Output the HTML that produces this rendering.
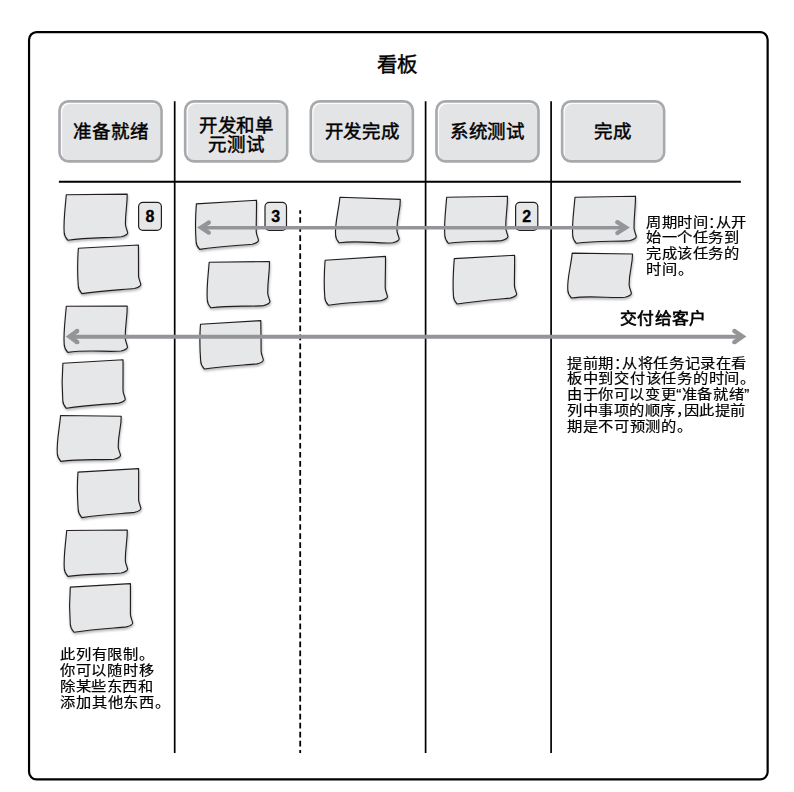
<!DOCTYPE html><html lang="zh-CN"><head><meta charset="utf-8"><title>看板</title><style>

html,body{margin:0;padding:0;background:#fff;}
body{width:794px;height:792px;position:relative;overflow:hidden;font-family:"Liberation Sans",sans-serif;color:#000;}
.st{fill:#e6e7e8;stroke:#231f20;stroke-width:1.15;stroke-linejoin:round;}
.t{position:absolute;white-space:nowrap;}
.h{font-feature-settings:"halt";}

</style></head><body>
<svg width="794" height="792" viewBox="0 0 794 792" style="position:absolute;left:0;top:0">
<defs><filter id="sh" x="-10%" y="-10%" width="120%" height="130%"><feDropShadow dx="0.6" dy="1.8" stdDeviation="1.1" flood-color="#000" flood-opacity="0.28"/></filter></defs>
<rect x="29.05" y="32.2" width="738.6" height="747.2" rx="7.5" fill="none" stroke="#000" stroke-width="2.2"/>
<line x1="58.9" y1="181.8" x2="740.9" y2="181.8" stroke="#000" stroke-width="1.9"/>
<line x1="174.7" y1="101.3" x2="174.7" y2="752.9" stroke="#000" stroke-width="1.7"/>
<line x1="425.6" y1="101.3" x2="425.6" y2="752.9" stroke="#000" stroke-width="1.7"/>
<line x1="551.1" y1="101.3" x2="551.1" y2="752.9" stroke="#000" stroke-width="1.7"/>
<line x1="300.2" y1="210.2" x2="300.2" y2="752.9" stroke="#000" stroke-width="1.8" stroke-dasharray="5.7 3.33" stroke-dashoffset="2.1"/>
<clipPath id="cb0"><rect x="60.85" y="102.70" width="99.35" height="57.35" rx="7.65"/></clipPath>
<rect x="60.85" y="102.70" width="99.35" height="57.35" rx="7.65" fill="#fdfdfd"/>
<rect x="62.15" y="104.00" width="99.35" height="57.35" rx="7.65" fill="#e3e4e6" clip-path="url(#cb0)"/>
<rect x="59.53" y="101.38" width="102.00" height="60.00" rx="8.98" fill="none" stroke="#a7a9ac" stroke-width="2.65"/>
<clipPath id="cb1"><rect x="186.50" y="102.70" width="99.35" height="57.35" rx="7.65"/></clipPath>
<rect x="186.50" y="102.70" width="99.35" height="57.35" rx="7.65" fill="#fdfdfd"/>
<rect x="187.80" y="104.00" width="99.35" height="57.35" rx="7.65" fill="#e3e4e6" clip-path="url(#cb1)"/>
<rect x="185.18" y="101.38" width="102.00" height="60.00" rx="8.98" fill="none" stroke="#a7a9ac" stroke-width="2.65"/>
<clipPath id="cb2"><rect x="312.15" y="102.70" width="99.35" height="57.35" rx="7.65"/></clipPath>
<rect x="312.15" y="102.70" width="99.35" height="57.35" rx="7.65" fill="#fdfdfd"/>
<rect x="313.45" y="104.00" width="99.35" height="57.35" rx="7.65" fill="#e3e4e6" clip-path="url(#cb2)"/>
<rect x="310.82" y="101.38" width="102.00" height="60.00" rx="8.98" fill="none" stroke="#a7a9ac" stroke-width="2.65"/>
<clipPath id="cb3"><rect x="437.80" y="102.70" width="99.35" height="57.35" rx="7.65"/></clipPath>
<rect x="437.80" y="102.70" width="99.35" height="57.35" rx="7.65" fill="#fdfdfd"/>
<rect x="439.10" y="104.00" width="99.35" height="57.35" rx="7.65" fill="#e3e4e6" clip-path="url(#cb3)"/>
<rect x="436.48" y="101.38" width="102.00" height="60.00" rx="8.98" fill="none" stroke="#a7a9ac" stroke-width="2.65"/>
<clipPath id="cb4"><rect x="563.45" y="102.70" width="99.35" height="57.35" rx="7.65"/></clipPath>
<rect x="563.45" y="102.70" width="99.35" height="57.35" rx="7.65" fill="#fdfdfd"/>
<rect x="564.75" y="104.00" width="99.35" height="57.35" rx="7.65" fill="#e3e4e6" clip-path="url(#cb4)"/>
<rect x="562.13" y="101.38" width="102.00" height="60.00" rx="8.98" fill="none" stroke="#a7a9ac" stroke-width="2.65"/>
<g filter="url(#sh)">
<path d="M66.30,194.80 L127.20,194.10 C127.30,205.71 125.40,210.74 125.40,224.29 C125.50,227.38 127.10,229.70 127.70,232.80 Q127.30,235.20 121.20,236.70 C107.70,238.00 87.80,237.20 67.80,240.20 C65.60,237.70 64.20,235.46 64.20,232.46 C63.30,220.85 65.40,206.41 66.30,194.80Z" class="st"/>
<path d="M78.40,248.30 L138.40,245.00 C138.50,256.88 138.50,262.03 138.50,275.89 C138.60,279.06 140.20,281.43 140.80,284.60 Q140.40,287.00 134.30,288.50 C120.80,289.80 101.90,290.60 81.90,293.60 C79.70,291.10 78.30,288.68 78.30,285.68 C77.40,273.80 77.50,260.18 78.40,248.30Z" class="st"/>
<path d="M66.30,306.30 L127.20,306.00 C127.30,318.33 125.20,323.67 125.20,338.06 C125.30,341.35 126.90,343.81 127.50,347.10 Q127.10,349.50 121.00,351.00 C107.50,352.30 87.80,349.40 67.80,352.40 C65.60,349.90 64.20,347.18 64.20,344.18 C63.30,331.85 65.40,318.63 66.30,306.30Z" class="st"/>
<path d="M62.90,363.30 L123.00,359.80 C123.10,371.62 123.00,376.74 123.00,390.53 C123.10,393.68 124.70,396.05 125.30,399.20 Q124.90,401.60 118.80,403.10 C105.30,404.40 86.40,405.30 66.40,408.30 C64.20,405.80 62.80,403.42 62.80,400.42 C61.90,388.60 62.00,375.12 62.90,363.30Z" class="st"/>
<path d="M60.60,415.50 L121.20,416.20 C121.30,427.93 118.20,433.01 118.20,446.70 C118.30,449.83 119.90,452.17 120.50,455.30 Q120.10,457.70 114.00,459.20 C100.50,460.50 80.90,458.40 60.90,461.40 C58.70,458.90 57.30,456.58 57.30,453.58 C56.40,441.85 59.70,427.23 60.60,415.50Z" class="st"/>
<path d="M78.00,472.10 L138.60,468.60 C138.70,480.57 138.60,485.76 138.60,499.72 C138.70,502.91 140.30,505.31 140.90,508.50 Q140.50,510.90 134.40,512.40 C120.90,513.70 101.80,514.60 81.80,517.60 C79.60,515.10 78.20,512.62 78.20,509.62 C77.30,497.65 77.10,484.07 78.00,472.10Z" class="st"/>
<path d="M66.70,530.50 L127.30,530.00 C127.40,541.73 125.30,546.81 125.30,560.50 C125.40,563.63 127.00,565.97 127.60,569.10 Q127.20,571.50 121.10,573.00 C107.60,574.30 87.90,573.40 67.90,576.40 C65.70,573.90 64.30,571.58 64.30,568.58 C63.40,556.85 65.80,542.23 66.70,530.50Z" class="st"/>
<path d="M70.30,587.10 L130.40,583.60 C130.50,595.42 130.40,600.54 130.40,614.33 C130.50,617.48 132.10,619.85 132.70,623.00 Q132.30,625.40 126.20,626.90 C112.70,628.20 93.90,629.20 73.90,632.20 C71.70,629.70 70.30,627.32 70.30,624.32 C69.40,612.50 69.40,598.92 70.30,587.10Z" class="st"/>
<path d="M196.40,203.90 L256.50,200.20 C256.60,212.23 256.20,217.44 256.20,231.48 C256.30,234.69 257.90,237.09 258.50,240.30 Q258.10,242.70 252.00,244.20 C238.50,245.50 219.70,246.40 199.70,249.40 C197.50,246.90 196.10,244.38 196.10,241.38 C195.20,229.35 195.50,215.93 196.40,203.90Z" class="st"/>
<path d="M209.20,262.30 L269.50,261.50 C269.60,273.56 267.70,278.79 267.70,292.86 C267.80,296.07 269.40,298.48 270.00,301.70 Q269.60,304.10 263.50,305.60 C250.00,306.90 230.90,304.80 210.90,307.80 C208.70,305.30 207.30,302.76 207.30,299.76 C206.40,287.70 208.30,274.36 209.20,262.30Z" class="st"/>
<path d="M200.50,324.20 L260.80,320.60 C260.90,332.42 261.10,337.54 261.10,351.33 C261.20,354.48 262.80,356.85 263.40,360.00 Q263.00,362.40 256.90,363.90 C243.40,365.20 224.30,366.00 204.30,369.00 C202.10,366.50 200.70,364.12 200.70,361.12 C199.80,349.30 199.60,336.02 200.50,324.20Z" class="st"/>
<path d="M339.90,197.30 L400.30,199.40 C400.40,211.25 396.90,216.39 396.90,230.21 C397.00,233.37 398.60,235.74 399.20,238.90 Q398.80,241.30 392.70,242.80 C379.20,244.10 359.20,239.80 339.20,242.80 C337.00,240.30 335.60,237.90 335.60,234.90 C334.70,223.05 339.00,209.15 339.90,197.30Z" class="st"/>
<path d="M325.10,260.20 L385.50,256.40 C385.60,268.49 385.20,273.73 385.20,287.83 C385.30,291.06 386.90,293.48 387.50,296.70 Q387.10,299.10 381.00,300.60 C367.50,301.90 348.40,302.20 328.40,305.20 C326.20,302.70 324.80,300.14 324.80,297.14 C323.90,285.05 324.20,272.29 325.10,260.20Z" class="st"/>
<path d="M446.70,197.30 L507.50,196.20 C507.60,208.35 505.70,213.61 505.70,227.79 C505.80,231.03 507.40,233.46 508.00,236.70 Q507.60,239.10 501.50,240.60 C488.00,241.90 468.40,240.30 448.40,243.30 C446.20,240.80 444.80,238.20 444.80,235.20 C443.90,223.05 445.80,209.45 446.70,197.30Z" class="st"/>
<path d="M454.30,258.60 L514.60,255.30 C514.70,266.97 514.40,272.03 514.40,285.64 C514.50,288.75 516.10,291.09 516.70,294.20 Q516.30,296.60 510.20,298.10 C496.70,299.40 477.10,301.00 457.10,304.00 C454.90,301.50 453.50,299.22 453.50,296.22 C452.60,284.55 453.40,270.27 454.30,258.60Z" class="st"/>
<path d="M575.00,197.30 L635.50,196.20 C635.60,208.35 634.00,213.61 634.00,227.79 C634.10,231.03 635.70,233.46 636.30,236.70 Q635.90,239.10 629.80,240.60 C616.30,241.90 596.30,240.30 576.30,243.30 C574.10,240.80 572.70,238.20 572.70,235.20 C571.80,223.05 574.10,209.45 575.00,197.30Z" class="st"/>
<path d="M572.20,253.10 L632.50,254.00 C632.60,265.82 629.10,270.94 629.10,284.73 C629.20,287.88 630.80,290.25 631.40,293.40 Q631.00,295.80 624.90,297.30 C611.40,298.60 591.40,295.00 571.40,298.00 C569.20,295.50 567.80,293.12 567.80,290.12 C566.90,278.30 571.30,264.92 572.20,253.10Z" class="st"/>
</g>
<rect x="138.6" y="202.4" width="22.8" height="27.9" rx="4.3" fill="#e6e7e8" stroke="#231f20" stroke-width="1.2"/>
<rect x="265.0" y="202.4" width="21.500000000000046" height="27.9" rx="4.3" fill="#e6e7e8" stroke="#231f20" stroke-width="1.2"/>
<rect x="515.6" y="202.4" width="22.199999999999978" height="27.9" rx="4.3" fill="#e6e7e8" stroke="#231f20" stroke-width="1.2"/>
<line x1="202" y1="227.7" x2="625" y2="227.7" stroke="#939598" stroke-width="3.4"/>
<path d="M197.05,227.60 L207.76,220.69 L210.04,224.21 L204.79,227.60 L210.04,230.99 L207.76,234.51 Z" fill="#939598"/><circle cx="208.90" cy="222.45" r="2.1" fill="#939598"/><circle cx="208.90" cy="232.75" r="2.1" fill="#939598"/>
<path d="M629.90,227.60 L618.42,220.37 L616.18,223.93 L622.02,227.60 L616.18,231.27 L618.42,234.83 Z" fill="#939598"/><circle cx="617.30" cy="222.15" r="2.1" fill="#939598"/><circle cx="617.30" cy="233.05" r="2.1" fill="#939598"/>
<line x1="70" y1="336.75" x2="742" y2="336.75" stroke="#939598" stroke-width="4.1"/>
<path d="M65.80,336.60 L75.91,329.27 L78.49,332.83 L73.29,336.60 L78.49,340.37 L75.91,343.93 Z" fill="#939598"/><circle cx="77.20" cy="331.05" r="2.2" fill="#939598"/><circle cx="77.20" cy="342.15" r="2.2" fill="#939598"/>
<path d="M746.40,336.60 L735.64,329.23 L733.16,332.87 L738.61,336.60 L733.16,340.33 L735.64,343.97 Z" fill="#939598"/><circle cx="734.40" cy="331.05" r="2.2" fill="#939598"/><circle cx="734.40" cy="342.15" r="2.2" fill="#939598"/>
</svg>
<div class="t" style="left:377.30px;top:54.50px;font-size:20.5px;line-height:20px;letter-spacing:0.000px;transform:scaleX(1);transform-origin:0 0;-webkit-text-stroke:0.45px #000;">看板</div>
<div class="t" style="left:58.5px;width:104.5px;text-align:center;top:122.3px;font-size:18.5px;line-height:19px;letter-spacing:-0.25px;-webkit-text-stroke:0.45px #000;">准备就绪</div>
<div class="t" style="left:184.1px;width:104.5px;text-align:center;top:115.7px;font-size:18.5px;line-height:19px;letter-spacing:-0.25px;-webkit-text-stroke:0.45px #000;">开发和单<br>元测试</div>
<div class="t" style="left:309.8px;width:104.5px;text-align:center;top:122.3px;font-size:18.5px;line-height:19px;letter-spacing:-0.25px;-webkit-text-stroke:0.45px #000;">开发完成</div>
<div class="t" style="left:435.2px;width:104.5px;text-align:center;top:122.3px;font-size:18.5px;line-height:19px;letter-spacing:-0.25px;-webkit-text-stroke:0.45px #000;">系统测试</div>
<div class="t" style="left:560.9px;width:104.5px;text-align:center;top:122.3px;font-size:18.5px;line-height:19px;letter-spacing:-0.25px;-webkit-text-stroke:0.45px #000;">完成</div>
<div class="t" style="left:138.0px;width:24.0px;text-align:center;top:207.3px;font-size:16px;line-height:20px;font-weight:bold;-webkit-text-stroke:0.3px #000;transform:scaleX(1);">8</div>
<div class="t" style="left:264.4px;width:22.700000000000045px;text-align:center;top:207.3px;font-size:16px;line-height:20px;font-weight:bold;-webkit-text-stroke:0.3px #000;transform:scaleX(1);">3</div>
<div class="t" style="left:515.0px;width:23.399999999999977px;text-align:center;top:207.3px;font-size:16px;line-height:20px;font-weight:bold;-webkit-text-stroke:0.3px #000;transform:scaleX(1);">2</div>
<div class="t" style="left:60.00px;top:643.85px;font-size:14.0px;line-height:20px;letter-spacing:0.504px;transform:scaleX(1.09);transform-origin:0 0;-webkit-text-stroke:0.2px #000;">此列有限制。</div>
<div class="t" style="left:60.00px;top:659.75px;font-size:14.0px;line-height:20px;letter-spacing:0.413px;transform:scaleX(1.09);transform-origin:0 0;-webkit-text-stroke:0.2px #000;">你可以随时移</div>
<div class="t" style="left:60.00px;top:675.65px;font-size:14.0px;line-height:20px;letter-spacing:0.230px;transform:scaleX(1.09);transform-origin:0 0;-webkit-text-stroke:0.2px #000;">除某些东西和</div>
<div class="t" style="left:60.00px;top:691.55px;font-size:14.0px;line-height:20px;letter-spacing:0.556px;transform:scaleX(1.09);transform-origin:0 0;-webkit-text-stroke:0.2px #000;">添加其他东西。</div>
<div class="t" style="left:646.00px;top:211.55px;font-size:14.0px;line-height:20px;letter-spacing:0.233px;transform:scaleX(1.09);transform-origin:0 0;-webkit-text-stroke:0.2px #000;">周期时间<span class="h">：</span>从开</div>
<div class="t" style="left:646.00px;top:227.45px;font-size:14.0px;line-height:20px;letter-spacing:0.276px;transform:scaleX(1.09);transform-origin:0 0;-webkit-text-stroke:0.2px #000;">始一个任务到</div>
<div class="t" style="left:646.00px;top:243.35px;font-size:14.0px;line-height:20px;letter-spacing:0.276px;transform:scaleX(1.09);transform-origin:0 0;-webkit-text-stroke:0.2px #000;">完成该任务的</div>
<div class="t" style="left:646.00px;top:259.25px;font-size:14.0px;line-height:20px;letter-spacing:0.486px;transform:scaleX(1.09);transform-origin:0 0;-webkit-text-stroke:0.2px #000;">时间。</div>
<div class="t" style="left:620.00px;top:309.00px;font-size:16px;line-height:20px;letter-spacing:0.500px;transform:scaleX(1.05);transform-origin:0 0;-webkit-text-stroke:0.6px #000;">交付给客户</div>
<div class="t" style="left:567.00px;top:352.55px;font-size:14.0px;line-height:20px;letter-spacing:0.352px;transform:scaleX(1.09);transform-origin:0 0;-webkit-text-stroke:0.2px #000;">提前期<span class="h">：</span>从将任务记录在看</div>
<div class="t" style="left:567.00px;top:368.45px;font-size:14.0px;line-height:20px;letter-spacing:0.441px;transform:scaleX(1.09);transform-origin:0 0;-webkit-text-stroke:0.2px #000;">板中到交付该任务的时间。</div>
<div class="t" style="left:567.00px;top:384.35px;font-size:14.0px;line-height:20px;letter-spacing:0.333px;transform:scaleX(1.09);transform-origin:0 0;-webkit-text-stroke:0.2px #000;">由于你可以变更“准备就绪”</div>
<div class="t" style="left:567.00px;top:400.25px;font-size:14.0px;line-height:20px;letter-spacing:0.265px;transform:scaleX(1.09);transform-origin:0 0;-webkit-text-stroke:0.2px #000;">列中事项的顺序<span class="h">，</span>因此提前</div>
<div class="t" style="left:567.00px;top:416.15px;font-size:14.0px;line-height:20px;letter-spacing:0.369px;transform:scaleX(1.09);transform-origin:0 0;-webkit-text-stroke:0.2px #000;">期是不可预测的。</div>
</body></html>
